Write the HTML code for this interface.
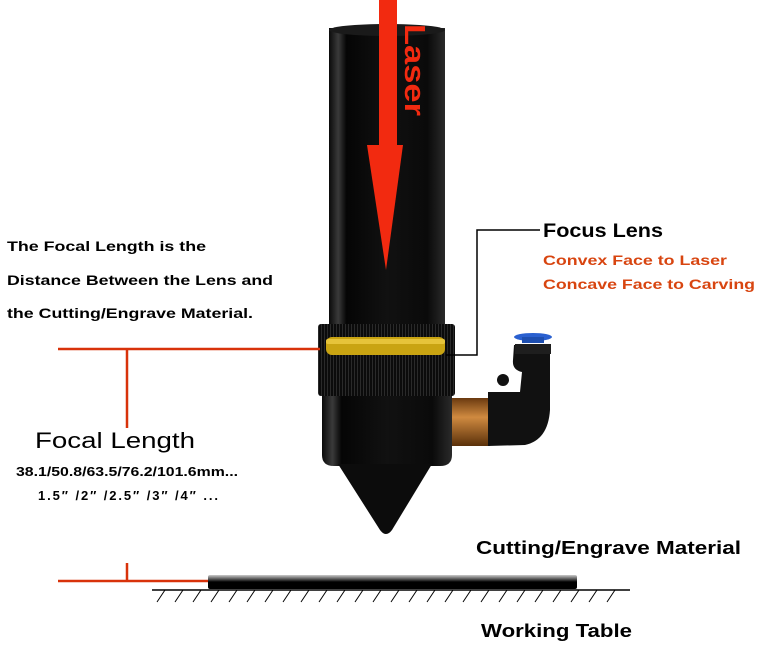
<!DOCTYPE html>
<html><head><meta charset="utf-8"><style>
html,body{margin:0;padding:0;background:#fff;}
svg{display:block;}
text{font-family:"Liberation Sans",sans-serif;}
</style></head><body>
<svg width="777" height="649" viewBox="0 0 777 649" xmlns="http://www.w3.org/2000/svg">
<defs>
<linearGradient id="body" x1="0" x2="1" y1="0" y2="0">
<stop offset="0" stop-color="#0a0a0a"/><stop offset="0.08" stop-color="#3a3a3a"/><stop offset="0.15" stop-color="#050505"/><stop offset="0.5" stop-color="#111"/><stop offset="0.85" stop-color="#0a0a0a"/><stop offset="1" stop-color="#2a2a2a"/>
</linearGradient>
<linearGradient id="brass" x1="0" x2="0" y1="0" y2="1">
<stop offset="0" stop-color="#6a3a10"/><stop offset="0.4" stop-color="#d08a40"/><stop offset="1" stop-color="#5a300a"/>
</linearGradient>
<linearGradient id="mat" x1="0" x2="0" y1="0" y2="1">
<stop offset="0" stop-color="#ccc"/><stop offset="0.5" stop-color="#000"/><stop offset="1" stop-color="#000"/>
</linearGradient>
<pattern id="knurl" width="3" height="10" patternUnits="userSpaceOnUse"><rect width="3" height="10" fill="#0b0b0b"/><rect width="1" height="10" fill="#2a2a2a"/></pattern>
</defs>
<rect x="329" y="28" width="116" height="300" fill="url(#body)"/>
<ellipse cx="387" cy="30" rx="58" ry="6" fill="#1a1a1a"/>
<rect x="318" y="324" width="137" height="72" rx="3" fill="url(#knurl)"/>
<rect x="326" y="337" width="119" height="18" rx="6" fill="#c9a412"/>
<rect x="326" y="339" width="119" height="5" rx="2" fill="#e6c43a"/>
<path d="M322 396 H452 V455 Q452 466 440 466 H334 Q322 466 322 455 Z" fill="url(#body)"/>
<path d="M338 464 L432 464 L392 530 Q386 538 380 530 Z" fill="#0c0c0c"/>
<rect x="452" y="398" width="38" height="48" fill="url(#brass)"/>
<path d="M488 392 H520 L522 372 Q512 370 513 360 L514 345 H550 L550 410 Q548 440 525 445 L488 446 Z" fill="#111"/>
<rect x="515" y="344" width="36" height="10" fill="#1e1e1e"/>
<ellipse cx="533" cy="337" rx="19" ry="4" fill="#2a60d0"/>
<rect x="522" y="337" width="22" height="6" fill="#1d4eb0"/>
<circle cx="503" cy="380" r="6" fill="#111"/>
<rect x="379" y="0" width="18" height="148" fill="#f22a10"/>
<polygon points="367,145 403,145 386,270" fill="#f22a10"/>
<text transform="translate(405,24) rotate(90)" font-size="29" font-weight="bold" fill="#f22a10" textLength="92" lengthAdjust="spacingAndGlyphs">Laser</text>
<polyline points="446,355 477,355 477,230 540,230" fill="none" stroke="#000" stroke-width="1.5"/>
<text x="543" y="237" font-size="19" font-weight="bold" fill="#000" textLength="120" lengthAdjust="spacingAndGlyphs">Focus Lens</text>
<text x="543" y="265" font-size="14" font-weight="bold" fill="#d84510" textLength="184" lengthAdjust="spacingAndGlyphs">Convex Face to Laser</text>
<text x="543" y="289" font-size="14" font-weight="bold" fill="#d84510" textLength="212" lengthAdjust="spacingAndGlyphs">Concave Face to Carving</text>
<text x="7" y="251" font-size="14" font-weight="bold" fill="#000" textLength="199" lengthAdjust="spacingAndGlyphs">The Focal Length is the</text>
<text x="7" y="285" font-size="14" font-weight="bold" fill="#000" textLength="266" lengthAdjust="spacingAndGlyphs">Distance Between the Lens and</text>
<text x="7" y="318" font-size="14" font-weight="bold" fill="#000" textLength="246" lengthAdjust="spacingAndGlyphs">the Cutting/Engrave Material.</text>
<g stroke="#d8320a" stroke-width="2.5" fill="none">
<line x1="58" y1="349" x2="320" y2="349"/>
<line x1="127" y1="349" x2="127" y2="428"/>
<line x1="127" y1="563" x2="127" y2="581"/>
<line x1="58" y1="581" x2="210" y2="581"/>
</g>
<text x="35" y="448" font-size="22" fill="#000" textLength="160" lengthAdjust="spacingAndGlyphs">Focal Length</text>
<text x="16" y="476" font-size="13" font-weight="bold" fill="#000" textLength="222" lengthAdjust="spacingAndGlyphs">38.1/50.8/63.5/76.2/101.6mm...</text>
<text x="38" y="500" font-size="13" font-weight="bold" fill="#000" textLength="180" lengthAdjust="spacing">1.5″ /2″ /2.5″ /3″ /4″ ...</text>
<rect x="208" y="575" width="369" height="14" rx="2" fill="url(#mat)"/>
<line x1="152" y1="590" x2="630" y2="590" stroke="#000" stroke-width="1.5"/>
<g stroke="#000" stroke-width="1">
<line x1="165" y1="590" x2="157" y2="602"/><line x1="183" y1="590" x2="175" y2="602"/><line x1="201" y1="590" x2="193" y2="602"/><line x1="219" y1="590" x2="211" y2="602"/><line x1="237" y1="590" x2="229" y2="602"/><line x1="255" y1="590" x2="247" y2="602"/><line x1="273" y1="590" x2="265" y2="602"/><line x1="291" y1="590" x2="283" y2="602"/><line x1="309" y1="590" x2="301" y2="602"/><line x1="327" y1="590" x2="319" y2="602"/><line x1="345" y1="590" x2="337" y2="602"/><line x1="363" y1="590" x2="355" y2="602"/><line x1="381" y1="590" x2="373" y2="602"/><line x1="399" y1="590" x2="391" y2="602"/><line x1="417" y1="590" x2="409" y2="602"/><line x1="435" y1="590" x2="427" y2="602"/><line x1="453" y1="590" x2="445" y2="602"/><line x1="471" y1="590" x2="463" y2="602"/><line x1="489" y1="590" x2="481" y2="602"/><line x1="507" y1="590" x2="499" y2="602"/><line x1="525" y1="590" x2="517" y2="602"/><line x1="543" y1="590" x2="535" y2="602"/><line x1="561" y1="590" x2="553" y2="602"/><line x1="579" y1="590" x2="571" y2="602"/><line x1="597" y1="590" x2="589" y2="602"/><line x1="615" y1="590" x2="607" y2="602"/>
</g>
<text x="476" y="554" font-size="18" font-weight="bold" fill="#000" textLength="265" lengthAdjust="spacingAndGlyphs">Cutting/Engrave Material</text>
<text x="481" y="637" font-size="18" font-weight="bold" fill="#000" textLength="151" lengthAdjust="spacingAndGlyphs">Working Table</text>
</svg>
</body></html>
